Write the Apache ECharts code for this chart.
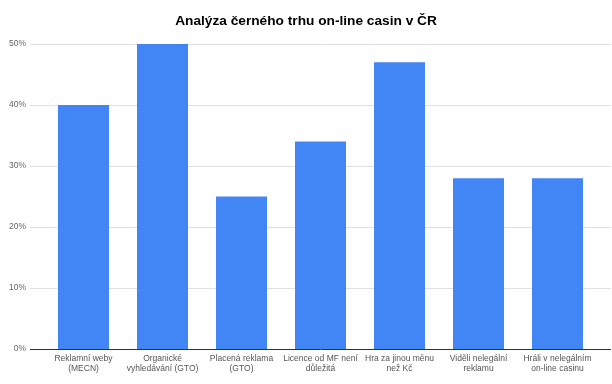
<!DOCTYPE html>
<html><head><meta charset="utf-8">
<script src="https://cdn.jsdelivr.net/npm/echarts@6/dist/echarts.min.js"></script>
<style>html,body{margin:0;padding:0;background:#fff}#c{width:612px;height:384px}</style>
</head><body><div id="c"></div>
<script>
const titleText = 'Analýza černého trhu on-line casin v ČR';
const categories = ['Reklamní weby\n(MECN)','Organické\nvyhledávání (GTO)','Placená reklama\n(GTO)','Licence od MF není\ndůležitá','Hra za jinou měnu\nnež Kč','Viděli nelegální\nreklamu','Hráli v nelegálním\non-line casinu'];
const values = [40, 50, 25, 34, 47, 28, 28];
const yMin = 0, yMax = 50, yStep = 10;

const chart = echarts.init(document.getElementById('c'), null, {renderer:'canvas'});
chart.setOption({
  animation:false,
  backgroundColor:'#ffffff',
  title:{text:titleText,left:'center',top:9,textStyle:{fontFamily:'Liberation Sans, Arial',fontWeight:'bold',fontSize:13.7,color:'#000'}},
  grid:[
    {left:44,right:15,top:44,bottom:35},
    {left:30,right:1,top:44,bottom:35}
  ],
  xAxis:[
    {type:'category',gridIndex:0,data:categories,axisTick:{show:false},axisLine:{show:false},
     axisLabel:{interval:0,fontFamily:'Liberation Sans, Arial',fontSize:8.5,color:'#555',lineHeight:10,margin:5}},
    {type:'value',gridIndex:1,show:false,min:0,max:1}
  ],
  yAxis:[
    {type:'value',gridIndex:0,min:yMin,max:yMax,interval:yStep,show:false,splitLine:{show:false}},
    {type:'value',gridIndex:1,min:yMin,max:yMax,interval:yStep,
     axisLine:{show:false},axisTick:{show:false},
     axisLabel:{formatter:v=>v+'%',fontFamily:'Liberation Sans, Arial',fontSize:8.5,color:'#666',margin:4},
     splitLine:{lineStyle:{color:['#333333','#e0e0e0','#e0e0e0','#e0e0e0','#e0e0e0','#e0e0e0'],width:1}}}
  ],
  series:[
    {type:'bar',xAxisIndex:0,yAxisIndex:0,data:values,barWidth:51,itemStyle:{color:'#4285F4'},z:5}
  ]
});
</script></body></html>
